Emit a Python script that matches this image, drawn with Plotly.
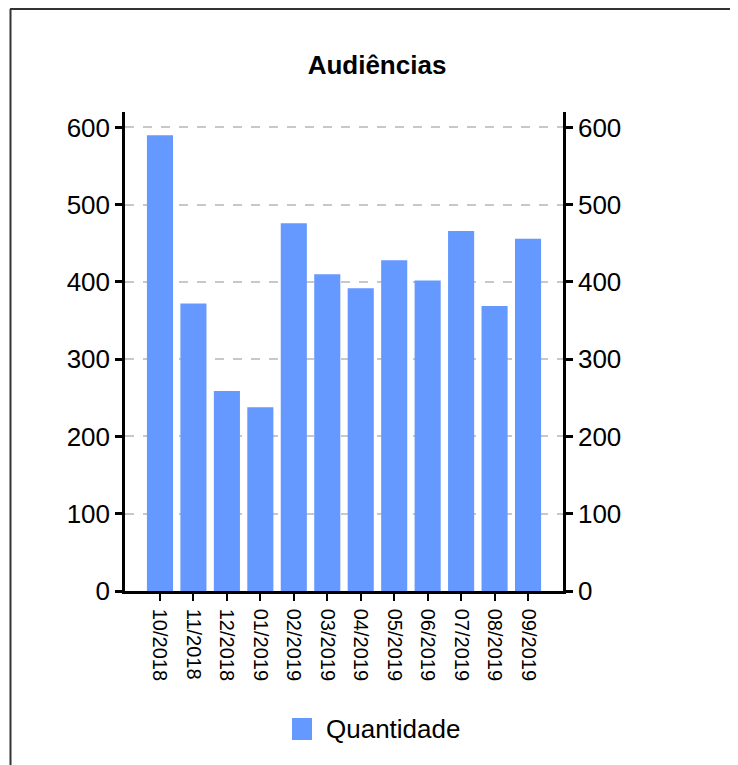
import plotly.graph_objects as go

categories = ["10/2018", "11/2018", "12/2018", "01/2019", "02/2019", "03/2019",
              "04/2019", "05/2019", "06/2019", "07/2019", "08/2019", "09/2019"]
quantidade = [590, 372, 259, 238, 476, 410, 392, 428, 402, 466, 369, 456]
y_ticks = [0, 100, 200, 300, 400, 500, 600]
series_name = "Quantidade"
title_text = "Audiências"

FONT = "Liberation Sans, Arial, Helvetica, sans-serif"
BAR_COLOR = "#6699ff"

# plot-area geometry (figure pixels)
L, R, T, B = 117, 555, 104, 583
W, H = 738, 765
PW, PH = R - L, B - T


def px(fx):
    return (fx - L) / PW


def py(fy):
    return (B - fy) / PH


fig = go.Figure()
fig.add_trace(go.Bar(
    x=categories, y=quantidade, name=series_name,
    marker=dict(color=BAR_COLOR, line=dict(width=0)),
    width=0.78, yaxis="y", showlegend=False,
))
# invisible trace so the right axis renders
fig.add_trace(go.Scatter(
    x=categories, y=quantidade, yaxis="y2", mode="markers",
    marker=dict(opacity=0), showlegend=False, hoverinfo="skip",
))

axis_common = dict(
    range=[0, 620], tickvals=y_ticks, showline=True, linecolor="black",
    linewidth=2.5, ticks="outside", ticklen=7, tickwidth=2.5, tickcolor="black",
    tickfont=dict(family=FONT, size=26, color="black"), zeroline=False,
)

fig.update_layout(
    width=W, height=H,
    paper_bgcolor="white", plot_bgcolor="white",
    margin=dict(l=L, r=W - R, t=T, b=H - B),
    title=dict(text="<b>" + title_text + "</b>", x=0.5, xanchor="center",
               y=1 - 57 / H, yanchor="middle",
               font=dict(family=FONT, size=26, color="black")),
    font=dict(family=FONT, color="black"),
    showlegend=False,
    xaxis=dict(
        type="category", range=[-1.045, 12.045], tickangle=90,
        showline=True, linecolor="black", linewidth=2.5,
        ticks="outside", ticklen=7, tickwidth=2, tickcolor="black",
        ticklabelstandoff=4,
        tickfont=dict(family=FONT, size=20, color="black"),
        showgrid=False,
    ),
    yaxis=dict(side="left", showgrid=True, gridcolor="#c8c8c8",
               griddash="dash", gridwidth=1.5, **axis_common),
    yaxis2=dict(side="right", overlaying="y", showgrid=False, **axis_common),
    shapes=[
        # outer frame (top and left edges only)
        dict(type="line", xref="paper", yref="paper",
             x0=px(2), x1=px(W), y0=py(1), y1=py(1),
             line=dict(color="#333333", width=2)),
        dict(type="line", xref="paper", yref="paper",
             x0=px(2.5), x1=px(2.5), y0=py(1), y1=py(H),
             line=dict(color="#333333", width=2)),
        # legend swatch
        dict(type="rect", xref="paper", yref="paper",
             x0=px(284), x1=px(304), y0=py(732), y1=py(710),
             fillcolor=BAR_COLOR, line=dict(width=0)),
    ],
    annotations=[
        dict(text=series_name, xref="paper", yref="paper",
             x=px(316), y=py(721), xanchor="left", yanchor="middle",
             showarrow=False, font=dict(family=FONT, size=26, color="black")),
    ],
)

fig.write_html("out.html")
